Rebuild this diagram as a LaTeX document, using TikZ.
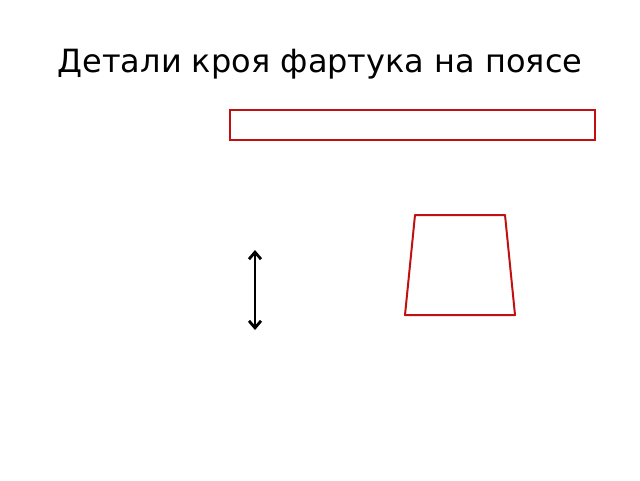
\documentclass[tikz,border=0pt]{standalone}
\usepackage{fontspec}
\setmainfont{DejaVu Sans}
\usetikzlibrary{arrows.meta}
\definecolor{cutred}{RGB}{192,16,16}
\begin{document}
\begin{tikzpicture}[x=1pt,y=-1pt]
            \useasboundingbox (0,0) rectangle (640,480);
            \node (title) at (320,64) {\fontsize{32}{38}\selectfont Детали кроя фартука на поясе};

            \draw[cutred, line width=2] (230,110) rectangle (595,140);
            \draw[cutred, line width=2, line join=round] (415,215) -- (505,215) -- (515,315) -- (405,315) -- cycle;

            \coordinate (up) at (255,250);
            \coordinate (down) at (255,330);
            \draw[{Straight Barb[length=7pt,width=12pt]}-{Straight Barb[length=7pt,width=12pt]}, line width=2.8] (up) to (down);
        \end{tikzpicture}
\end{document}
